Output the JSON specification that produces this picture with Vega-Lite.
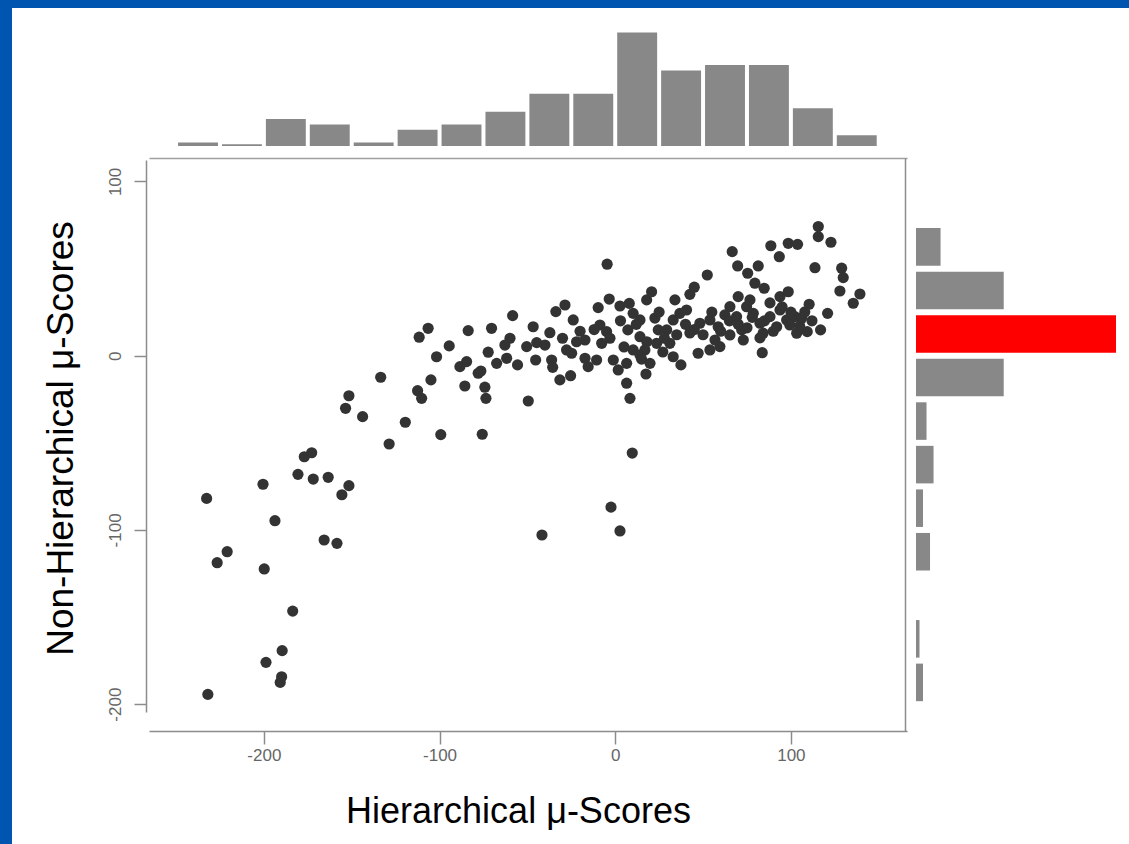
{
  "$schema": "https://vega.github.io/schema/vega-lite/v6.json",
  "width": 1117,
  "height": 836,
  "autosize": {"type": "none"},
  "padding": {"left": 12, "top": 8, "right": 0, "bottom": 0},
  "background": "#0055B0",
  "config": {
    "view": {"stroke": null, "fill": "white"},
    "axis": {"grid": false, "labelFont": "Liberation Sans", "titleFont": "Liberation Sans"}
  },
  "datasets": {
    "points": [
      {"h": -232.6, "n": -81.9}, {"h": -231.9, "n": -194.4}, {"h": -226.6, "n": -118.8}, {"h": -220.9, "n": -112.5},
      {"h": -200.5, "n": -73.8}, {"h": -199.8, "n": -122.4}, {"h": -198.8, "n": -176.0}, {"h": -193.7, "n": -94.7},
      {"h": -183.6, "n": -146.6}, {"h": -180.6, "n": -68.1}, {"h": -189.6, "n": -169.3}, {"h": -189.9, "n": -184.3},
      {"h": -190.7, "n": -187.5}, {"h": -177.0, "n": -58.0}, {"h": -172.8, "n": -55.7}, {"h": -171.9, "n": -70.8},
      {"h": -163.4, "n": -69.8}, {"h": -165.7, "n": -105.8}, {"h": -158.4, "n": -107.7}, {"h": -155.6, "n": -79.8},
      {"h": -151.6, "n": -74.6}, {"h": -153.5, "n": -30.2}, {"h": -151.6, "n": -23.0}, {"h": -143.8, "n": -35.0},
      {"h": -133.5, "n": -12.4}, {"h": -128.7, "n": -50.7}, {"h": -119.5, "n": -38.2}, {"h": -112.5, "n": -20.1},
      {"h": -110.2, "n": -24.5}, {"h": -111.6, "n": 10.6}, {"h": -106.5, "n": 15.7}, {"h": -104.9, "n": -13.9},
      {"h": -101.7, "n": -0.6}, {"h": -99.3, "n": -45.3}, {"h": -94.5, "n": 5.6}, {"h": -88.4, "n": -6.3},
      {"h": -84.6, "n": -3.4}, {"h": -83.7, "n": 14.4}, {"h": -85.6, "n": -17.4}, {"h": -78.0, "n": -10.1},
      {"h": -76.5, "n": -8.8}, {"h": -74.2, "n": -18.1}, {"h": -73.6, "n": -24.5}, {"h": -75.7, "n": -45.1},
      {"h": -72.3, "n": 2.0}, {"h": -70.4, "n": 15.7}, {"h": -67.5, "n": -4.4}, {"h": -61.8, "n": -1.5},
      {"h": -59.9, "n": 10.0}, {"h": -58.4, "n": 23.0}, {"h": -55.6, "n": -5.3}, {"h": -50.4, "n": 5.2},
      {"h": -46.7, "n": 16.6}, {"h": -44.7, "n": 7.5}, {"h": -45.3, "n": -2.5}, {"h": -49.5, "n": -26.0},
      {"h": -37.2, "n": 13.2}, {"h": -36.2, "n": -2.5}, {"h": -35.6, "n": -6.7}, {"h": -33.8, "n": 25.3},
      {"h": -28.6, "n": 29.1}, {"h": -27.7, "n": 3.3}, {"h": -24.8, "n": 1.4}, {"h": -23.9, "n": 20.5},
      {"h": -22.0, "n": 8.0}, {"h": -31.5, "n": -13.9}, {"h": -25.4, "n": -11.5}, {"h": -17.2, "n": -1.5},
      {"h": -15.4, "n": -6.3}, {"h": -10.6, "n": -2.5}, {"h": -7.7, "n": 7.1}, {"h": -4.9, "n": 13.8},
      {"h": -9.7, "n": 27.6}, {"h": -4.6, "n": 52.5}, {"h": -3.4, "n": 32.5}, {"h": -1.1, "n": -2.5},
      {"h": 1.7, "n": -8.2}, {"h": 2.7, "n": 28.5}, {"h": 6.5, "n": -4.4}, {"h": 6.5, "n": -15.8},
      {"h": 8.4, "n": -24.5}, {"h": 9.7, "n": -55.9}, {"h": 10.2, "n": 24.3}, {"h": 10.2, "n": 3.3},
      {"h": 14.1, "n": 10.9}, {"h": 16.9, "n": 3.3}, {"h": 17.5, "n": -10.5}, {"h": 19.8, "n": -4.4},
      {"h": 17.9, "n": 32.0}, {"h": 20.7, "n": 36.7}, {"h": 23.6, "n": 7.1}, {"h": 24.5, "n": 14.8},
      {"h": 29.3, "n": 14.8}, {"h": 31.1, "n": 7.1}, {"h": 33.0, "n": 20.5}, {"h": 33.0, "n": -0.6},
      {"h": 36.8, "n": 24.3}, {"h": 37.4, "n": -5.3}, {"h": 40.6, "n": 26.2}, {"h": 42.5, "n": 35.2},
      {"h": 45.0, "n": 39.3}, {"h": 52.4, "n": 46.3}, {"h": 47.2, "n": 1.4}, {"h": 48.2, "n": 18.6},
      {"h": 53.9, "n": 3.3}, {"h": 53.9, "n": 20.5}, {"h": 58.6, "n": 16.6}, {"h": 59.6, "n": 5.2},
      {"h": 65.3, "n": 28.1}, {"h": 65.3, "n": 11.9}, {"h": 66.6, "n": 59.7}, {"h": 69.7, "n": 51.5},
      {"h": 69.1, "n": 22.4}, {"h": 70.0, "n": 33.9}, {"h": 72.0, "n": 14.8}, {"h": 72.9, "n": 9.0},
      {"h": 74.8, "n": 28.1}, {"h": 75.4, "n": 47.3}, {"h": 78.6, "n": 24.3}, {"h": 79.5, "n": 41.6},
      {"h": 81.4, "n": 51.5}, {"h": 82.4, "n": 18.6}, {"h": 84.2, "n": 12.9}, {"h": 83.7, "n": 1.7},
      {"h": 84.8, "n": 38.7}, {"h": 88.1, "n": 22.4}, {"h": 88.6, "n": 63.1}, {"h": 91.9, "n": 16.6},
      {"h": 93.4, "n": 56.8}, {"h": 93.8, "n": 33.9}, {"h": 93.8, "n": 26.2}, {"h": 97.6, "n": 20.5},
      {"h": 98.5, "n": 36.7}, {"h": 98.5, "n": 64.5}, {"h": 102.3, "n": 22.4}, {"h": 103.8, "n": 63.9},
      {"h": 103.3, "n": 12.9}, {"h": 106.1, "n": 21.5}, {"h": 109.3, "n": 13.8}, {"h": 110.4, "n": 29.5},
      {"h": 113.7, "n": 50.5}, {"h": 115.6, "n": 74.1}, {"h": 115.6, "n": 68.3}, {"h": 116.9, "n": 14.8},
      {"h": 120.9, "n": 24.3}, {"h": 122.8, "n": 65.1}, {"h": 127.9, "n": 37.1}, {"h": 128.9, "n": 50.2},
      {"h": 129.8, "n": 44.8}, {"h": 135.5, "n": 30.1}, {"h": 139.3, "n": 35.4}, {"h": -2.4, "n": -86.9},
      {"h": 2.7, "n": -100.6}, {"h": -41.7, "n": -102.9},
      {"h": 14.1, "n": 20.5}, {"h": 22.6, "n": 21.6}, {"h": 7.2, "n": 14.8}, {"h": 27.1, "n": 2.1},
      {"h": 42.5, "n": 13.0}, {"h": 56.8, "n": 9.0}, {"h": 62.4, "n": 23.4}, {"h": 76.7, "n": 32.0},
      {"h": 88.1, "n": 30.3}, {"h": 99.4, "n": 17.6}, {"h": 107.9, "n": 25.1}, {"h": 82.4, "n": 10.2},
      {"h": -8.7, "n": 17.6}, {"h": -17.2, "n": 9.0}, {"h": -40.0, "n": 6.1}, {"h": -62.8, "n": 6.1},
      {"h": 14.1, "n": 0.4}, {"h": 34.0, "n": 32.0},
      {"h": 5.0, "n": 5.0}, {"h": 12.0, "n": 18.0}, {"h": 18.0, "n": 8.0}, {"h": 3.0, "n": 20.0},
      {"h": 25.0, "n": 25.0}, {"h": 8.0, "n": 30.0}, {"h": 15.0, "n": -2.0}, {"h": 28.0, "n": 10.0},
      {"h": -3.0, "n": 10.0}, {"h": 35.0, "n": 12.0}, {"h": 40.0, "n": 18.0}, {"h": 45.0, "n": 15.0},
      {"h": 50.0, "n": 12.0}, {"h": 55.0, "n": 25.0}, {"h": 60.0, "n": 14.0}, {"h": 65.0, "n": 20.0},
      {"h": 70.0, "n": 18.0}, {"h": 75.0, "n": 16.0}, {"h": 78.0, "n": 22.0}, {"h": 85.0, "n": 20.0},
      {"h": 90.0, "n": 14.0}, {"h": 95.0, "n": 28.0}, {"h": 100.0, "n": 25.0}, {"h": 105.0, "n": 17.0},
      {"h": 112.0, "n": 20.0}, {"h": -12.0, "n": 15.0}, {"h": -20.0, "n": 14.0}, {"h": -30.0, "n": 10.0}
    ],
    "hhist": [
      {"b0": -250, "b1": -225, "count": 2}, {"b0": -225, "b1": -200, "count": 1},
      {"b0": -200, "b1": -175, "count": 15}, {"b0": -175, "b1": -150, "count": 12},
      {"b0": -150, "b1": -125, "count": 2}, {"b0": -125, "b1": -100, "count": 9},
      {"b0": -100, "b1": -75, "count": 12}, {"b0": -75, "b1": -50, "count": 19},
      {"b0": -50, "b1": -25, "count": 29}, {"b0": -25, "b1": 0, "count": 29},
      {"b0": 0, "b1": 25, "count": 63}, {"b0": 25, "b1": 50, "count": 42},
      {"b0": 50, "b1": 75, "count": 45}, {"b0": 75, "b1": 100, "count": 45},
      {"b0": 100, "b1": 125, "count": 21}, {"b0": 125, "b1": 150, "count": 6}
    ],
    "nhist": [
      {"b0": 50, "b1": 75, "count": 7}, {"b0": 25, "b1": 50, "count": 25},
      {"b0": 0, "b1": 25, "count": 57}, {"b0": -25, "b1": 0, "count": 25},
      {"b0": -50, "b1": -25, "count": 3}, {"b0": -75, "b1": -50, "count": 5},
      {"b0": -100, "b1": -75, "count": 2}, {"b0": -125, "b1": -100, "count": 4},
      {"b0": -150, "b1": -125, "count": 0}, {"b0": -175, "b1": -150, "count": 1},
      {"b0": -200, "b1": -175, "count": 2}
    ]
  },
  "layer": [
    {
      "data": {"name": "points"},
      "mark": {"type": "circle", "size": 125, "color": "#333333", "opacity": 1},
      "encoding": {
        "x": {
          "field": "h", "type": "quantitative",
          "scale": {"domain": [-265.4, 166.1], "range": [137, 895], "nice": false, "zero": false},
          "axis": {
            "orient": "bottom", "offset": -113, "values": [-200, -100, 0, 100],
            "labelExpr": "replace(datum.label, '−', '-')",
            "domainColor": "#8c8c8c", "domainWidth": 1.5, "tickColor": "#8c8c8c", "tickWidth": 1.5, "tickSize": 13,
            "labelColor": "#666666", "labelFontSize": 17, "labelPadding": 3, "labelFlush": false,
            "title": "Hierarchical μ-Scores", "titleFontSize": 36, "titleFontWeight": "normal", "titleColor": "#000000",
            "titleX": 506, "titleY": 91, "titleBaseline": "alphabetic", "titleAlign": "center"
          }
        },
        "y": {
          "field": "n", "type": "quantitative",
          "scale": {"domain": [-204.5, 112.3], "range": [704, 152], "nice": false, "zero": false},
          "axis": {
            "orient": "left", "offset": -134, "values": [-200, -100, 0, 100],
            "labelExpr": "replace(datum.label, '−', '-')",
            "domainColor": "#8c8c8c", "domainWidth": 1.5, "tickColor": "#8c8c8c", "tickWidth": 1.5, "tickSize": 12,
            "labelColor": "#666666", "labelFontSize": 17, "labelAngle": -90, "labelAlign": "center", "labelBaseline": "bottom",
            "labelPadding": 10, "labelFlush": false,
            "title": "Non-Hierarchical μ-Scores", "titleFontSize": 37, "titleFontWeight": "normal", "titleColor": "#000000",
            "titleX": -74, "titleY": 430, "titleBaseline": "alphabetic", "titleAlign": "center", "titleAngle": -90
          }
        }
      }
    },
    {
      "data": {"name": "hhist"},
      "mark": {"type": "rect", "xOffset": 2, "x2Offset": -2, "color": "#888888"},
      "encoding": {
        "x": {
          "field": "b0", "type": "quantitative",
          "scale": {"domain": [-265.4, 166.1], "range": [137, 895], "nice": false, "zero": false},
          "axis": {"orient": "top", "offset": -150, "ticks": false, "labels": false, "title": null, "domainColor": "#a0a0a0", "domainWidth": 1.5}
        },
        "x2": {"field": "b1"},
        "y": {"field": "count", "type": "quantitative", "scale": {"domain": [0, 63], "range": [138, 24.6], "nice": false, "zero": false}, "axis": null},
        "y2": {"datum": 0}
      }
    },
    {
      "data": {"name": "nhist"},
      "mark": {"type": "rect", "yOffset": -3, "y2Offset": 3},
      "encoding": {
        "y": {
          "field": "b0", "type": "quantitative",
          "scale": {"domain": [-215.4, 113.5], "range": [723, 150], "nice": false, "zero": false},
          "axis": {"orient": "right", "offset": -224, "ticks": false, "labels": false, "title": null, "domainColor": "#8c8c8c", "domainWidth": 1.5}
        },
        "y2": {"field": "b1"},
        "x": {"field": "count", "type": "quantitative", "scale": {"domain": [0, 57], "range": [904, 1104], "nice": false, "zero": false}, "axis": null},
        "x2": {"datum": 0},
        "color": {"condition": {"test": "datum.b0 == 0", "value": "#ff0000"}, "value": "#888888"}
      }
    }
  ],
  "resolve": {
    "scale": {"x": "independent", "y": "independent"},
    "axis": {"x": "independent", "y": "independent"}
  }
}
